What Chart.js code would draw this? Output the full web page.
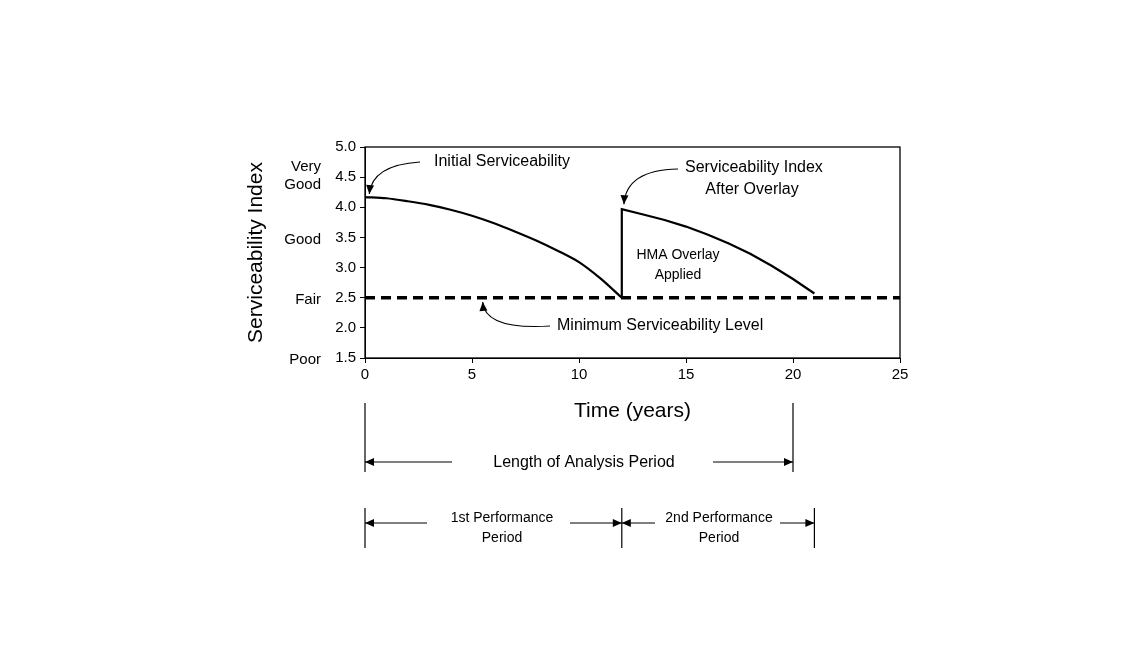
<!DOCTYPE html>
<html><head><meta charset="utf-8">
<script src="https://cdn.jsdelivr.net/npm/chart.js@4/dist/chart.umd.min.js"></script>
<style>html,body{margin:0;background:#fff}#wrap{width:1148px;height:653px}</style>
</head><body><div id="wrap"><canvas id="c"></canvas></div>
<script>
// first performance period
const firstYears = [0, 1, 2, 3, 4, 5, 6, 7, 8, 9, 10, 11, 12];
const firstIndex = [4.17, 4.15, 4.1, 4.04, 3.96, 3.86, 3.74, 3.6, 3.45, 3.28, 3.09, 2.82, 2.5];
// second performance period (after overlay)
const secondYears = [12, 12, 13, 14, 15, 16, 17, 18, 19, 20, 21];
const secondIndex = [2.5, 3.97, 3.88, 3.79, 3.68, 3.55, 3.4, 3.23, 3.03, 2.81, 2.57];
const minLevel = 2.5;
const xTicks = [0, 5, 10, 15, 20, 25];
const yTicks = [1.5, 2, 2.5, 3, 3.5, 4, 4.5, 5];
const ratingLabels = [[4.5, ['Very', 'Good']], [3.5, ['Good']], [2.5, ['Fair']], [1.5, ['Poor']]];

const F = '"Liberation Sans", Arial, sans-serif';
const pts = (xs, ys) => xs.map((x, i) => ({x, y: ys[i]}));

function arrowHead(ctx, x, y, ang) {
  ctx.save(); ctx.translate(x, y); ctx.rotate(ang);
  ctx.beginPath(); ctx.moveTo(0, 0); ctx.lineTo(-9, -4); ctx.lineTo(-9, 4); ctx.closePath();
  ctx.fill(); ctx.restore();
}
function curved(ctx, x0, y0, cx, cy, x1, y1) {
  ctx.beginPath(); ctx.moveTo(x0, y0); ctx.quadraticCurveTo(cx, cy, x1, y1); ctx.stroke();
  arrowHead(ctx, x1, y1, Math.atan2(y1 - cy, x1 - cx));
}
function hArrow(ctx, x0, x1, y) {
  ctx.beginPath(); ctx.moveTo(x0, y); ctx.lineTo(x1, y); ctx.stroke();
  arrowHead(ctx, x1, y, x1 > x0 ? 0 : Math.PI);
}

const annot = {
  id: 'annot',
  afterDraw(chart) {
    const ctx = chart.ctx, a = chart.chartArea;
    const X = v => chart.scales.x.getPixelForValue(v), Y = v => chart.scales.y.getPixelForValue(v);
    ctx.save();
    ctx.strokeStyle = '#000'; ctx.fillStyle = '#000'; ctx.lineWidth = 1.3;
    ctx.strokeRect(a.left, a.top, a.right - a.left, a.bottom - a.top);
    // rating words
    ctx.font = '15px ' + F; ctx.textAlign = 'right'; ctx.textBaseline = 'middle';
    ratingLabels.forEach(([v, words]) => {
      const y = Y(v);
      if (words.length === 2) { ctx.fillText(words[0], 321, y - 10); ctx.fillText(words[1], 321, y + 8); }
      else ctx.fillText(words[0], 321, y + 2);
    });
    // in-plot labels
    ctx.textAlign = 'left'; ctx.font = '16px ' + F;
    ctx.fillText('Initial Serviceability', 434, 162);
    ctx.fillText('Serviceability Index', 685, 168);
    ctx.fillText('Minimum Serviceability Level', 557, 326);
    ctx.textAlign = 'center';
    ctx.fillText('After Overlay', 752, 190);
    ctx.font = '14px ' + F;
    ctx.fillText('HMA Overlay', 678, 255); ctx.fillText('Applied', 678, 275);
    ctx.lineWidth = 1.2;
    curved(ctx, 420, 162, 372, 165, X(0.2), Y(4.22));
    curved(ctx, 678, 169, 626, 170, X(12.1), Y(4.05));
    curved(ctx, 550, 326, 485, 330, X(5.5), Y(2.43));
    // period brackets
    ctx.font = '16px ' + F;
    [[X(0), 403, 472], [X(20), 403, 472], [X(0), 508, 548], [X(12), 508, 548], [X(21), 508, 548]]
      .forEach(([x, y0, y1]) => { ctx.beginPath(); ctx.moveTo(x, y0); ctx.lineTo(x, y1); ctx.stroke(); });
    hArrow(ctx, 452, X(0), 462);
    hArrow(ctx, 713, X(20), 462);
    ctx.fillText('Length of Analysis Period', 584, 463);
    ctx.font = '14px ' + F;
    hArrow(ctx, 427, X(0), 523); hArrow(ctx, 570, X(12), 523);
    ctx.fillText('1st Performance', 502, 518); ctx.fillText('Period', 502, 538);
    hArrow(ctx, 655, X(12), 523); hArrow(ctx, 780, X(21), 523);
    ctx.fillText('2nd Performance', 719, 518); ctx.fillText('Period', 719, 538);
    ctx.restore();
  }
};

new Chart(document.getElementById('c'), {
  type: 'line',
  data: {
    datasets: [
      {data: pts(firstYears, firstIndex), borderColor: '#000', borderWidth: 2.2, pointRadius: 0, tension: 0.3},
      {data: pts(secondYears, secondIndex), borderColor: '#000', borderWidth: 2.2, pointRadius: 0, tension: 0},
      {data: [{x: 0, y: minLevel}, {x: 25, y: minLevel}], borderColor: '#000', borderWidth: 3.5, borderDash: [10, 6], pointRadius: 0}
    ]
  },
  options: {
    responsive: true, maintainAspectRatio: false, animation: false,
    layout: {padding: {left: 240, right: 248, top: 147, bottom: 225}},
    plugins: {legend: {display: false}, tooltip: {enabled: false}},
    scales: {
      x: {
        type: 'linear', min: 0, max: 25,
        afterBuildTicks: s => { s.ticks = xTicks.map(v => ({value: v})); },
        afterFit: s => { s.height = 70; },
        grid: {drawOnChartArea: false, tickLength: 5, color: '#000'}, border: {color: '#000'},
        ticks: {color: '#000', font: {family: F, size: 15}},
        title: {display: true, text: 'Time (years)', color: '#000', font: {family: F, size: 21}, padding: {top: 4}}
      },
      y: {
        min: 1.5, max: 5,
        afterBuildTicks: s => { s.ticks = yTicks.map(v => ({value: v})); },
        afterFit: s => { s.width = 125; },
        grid: {drawOnChartArea: false, tickLength: 5, color: '#000'}, border: {color: '#000'},
        ticks: {color: '#000', font: {family: F, size: 15}, padding: 4},
        title: {display: true, text: 'Serviceability Index', color: '#000', font: {family: F, size: 21}}
      }
    }
  },
  plugins: [annot]
});
</script></body></html>
